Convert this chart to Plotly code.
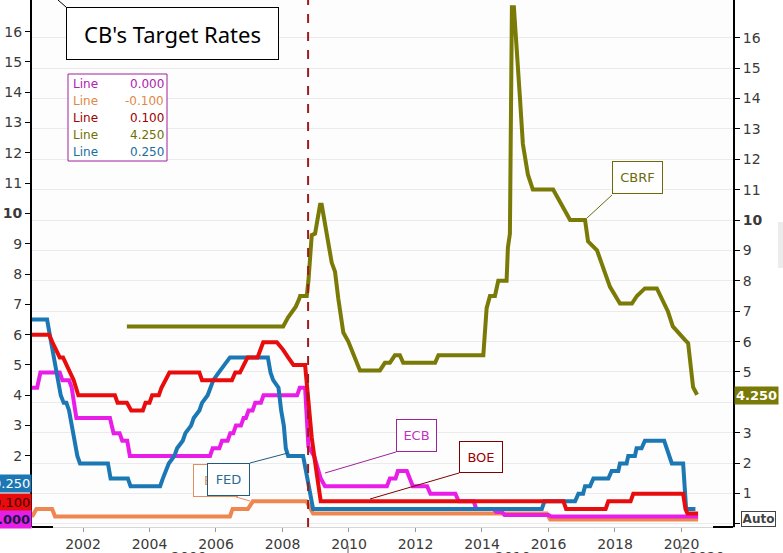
import plotly.graph_objects as go

# ---------------- data (decimal year, rate %) ----------------
FED = [(2000.30, 6.5), (2000.92, 6.5), (2001.00, 6.0), (2001.08, 5.5), (2001.17, 5.0), (2001.25, 4.5),
       (2001.33, 4.0), (2001.42, 3.75), (2001.50, 3.75), (2001.58, 3.5), (2001.67, 3.0), (2001.75, 2.5),
       (2001.83, 2.0), (2001.91, 1.75), (2002.75, 1.75), (2002.83, 1.25), (2003.35, 1.25), (2003.43, 1.0),
       (2004.32, 1.0), (2004.40, 1.25), (2004.50, 1.5), (2004.58, 1.75), (2004.75, 2.0), (2004.83, 2.25),
       (2005.00, 2.5), (2005.08, 2.75), (2005.25, 3.0), (2005.33, 3.25), (2005.50, 3.5), (2005.58, 3.75),
       (2005.75, 4.0), (2005.83, 4.25), (2005.92, 4.5), (2006.08, 4.75), (2006.25, 5.0), (2006.42, 5.25),
       (2007.56, 5.25), (2007.64, 4.75), (2007.72, 4.5), (2007.88, 4.25), (2007.96, 3.5), (2008.04, 3.0),
       (2008.10, 2.25), (2008.17, 2.0), (2008.62, 2.0), (2008.70, 1.5), (2008.78, 1.0), (2008.92, 0.25),
       (2015.80, 0.25), (2015.88, 0.5), (2016.80, 0.5), (2016.90, 0.75), (2017.04, 0.75), (2017.10, 1.0),
       (2017.25, 1.0), (2017.35, 1.25), (2017.80, 1.25), (2017.90, 1.5), (2018.10, 1.5), (2018.15, 1.75),
       (2018.35, 1.75), (2018.40, 2.0), (2018.60, 2.0), (2018.65, 2.25), (2018.80, 2.25), (2018.90, 2.5),
       (2019.48, 2.5), (2019.55, 2.25), (2019.63, 2.0), (2019.71, 1.75), (2020.05, 1.75), (2020.10, 1.0),
       (2020.14, 0.25), (2020.42, 0.25)]

ECB = [(2000.30, 4.25), (2000.62, 4.25), (2000.72, 4.75), (2001.30, 4.75), (2001.38, 4.5), (2001.58, 4.5),
       (2001.66, 4.25), (2001.72, 3.75), (2001.80, 3.25), (2002.81, 3.25), (2002.92, 2.75), (2003.10, 2.75),
       (2003.18, 2.5), (2003.33, 2.5), (2003.41, 2.0), (2005.82, 2.0), (2005.90, 2.25), (2006.10, 2.25),
       (2006.18, 2.5), (2006.35, 2.5), (2006.43, 2.75), (2006.52, 2.75), (2006.60, 3.0), (2006.75, 3.0),
       (2006.83, 3.25), (2006.90, 3.25), (2006.98, 3.5), (2007.10, 3.5), (2007.18, 3.75), (2007.35, 3.75),
       (2007.43, 4.0), (2008.44, 4.0), (2008.52, 4.25), (2008.68, 4.25), (2008.78, 2.3), (2008.95, 2.0),
       (2009.05, 1.6), (2009.15, 1.25), (2009.28, 1.0), (2011.14, 1.0), (2011.23, 1.25), (2011.40, 1.25),
       (2011.47, 1.5), (2011.74, 1.5), (2011.83, 1.25), (2011.92, 1.0), (2012.35, 1.0), (2012.45, 0.75),
       (2013.20, 0.75), (2013.30, 0.5), (2013.75, 0.5), (2013.83, 0.25), (2014.35, 0.25), (2014.43, 0.15),
       (2014.60, 0.15), (2014.68, 0.05), (2016.00, 0.05), (2016.08, 0.0), (2020.50, 0.0)]

BOE = [(2000.30, 6.0), (2000.98, 6.0), (2001.08, 5.75), (2001.20, 5.5), (2001.30, 5.25), (2001.40, 5.25),
       (2001.50, 5.0), (2001.62, 4.75), (2001.72, 4.5), (2001.86, 4.0), (2002.96, 4.0), (2003.04, 3.75),
       (2003.32, 3.75), (2003.45, 3.5), (2003.80, 3.5), (2003.88, 3.75), (2004.00, 3.75), (2004.08, 4.0),
       (2004.28, 4.0), (2004.36, 4.25), (2004.47, 4.5), (2004.60, 4.75), (2005.50, 4.75), (2005.58, 4.5),
       (2006.48, 4.5), (2006.58, 4.75), (2006.72, 4.75), (2006.82, 5.0), (2006.95, 5.25), (2007.25, 5.25),
       (2007.32, 5.5), (2007.42, 5.75), (2007.83, 5.75), (2008.02, 5.5), (2008.17, 5.25), (2008.33, 5.0),
       (2008.68, 5.0), (2008.78, 3.8), (2008.88, 2.6), (2008.98, 1.8), (2009.06, 1.2), (2009.15, 0.5),
       (2016.45, 0.5), (2016.53, 0.25), (2017.72, 0.25), (2017.80, 0.5), (2018.47, 0.5), (2018.55, 0.75),
       (2020.05, 0.75), (2020.12, 0.25), (2020.18, 0.1), (2020.50, 0.1)]

BOJ = [(2000.45, 0.0), (2000.50, 0.05), (2000.60, 0.25), (2001.07, 0.25), (2001.16, 0.0), (2006.42, 0.0),
       (2006.50, 0.25), (2006.96, 0.25), (2007.11, 0.5), (2008.72, 0.5), (2008.82, 0.3), (2008.92, 0.1),
       (2015.95, 0.1), (2016.05, -0.1), (2020.50, -0.1)]

CBRF = [(2003.32, 6.5), (2008.02, 6.5), (2008.17, 6.8), (2008.30, 7.0), (2008.40, 7.15), (2008.50, 7.4),
        (2008.53, 7.5), (2008.73, 7.5), (2008.78, 8.0), (2008.88, 9.5), (2008.98, 9.55), (2009.13, 10.5),
        (2009.18, 10.5), (2009.48, 8.6), (2009.58, 8.3), (2009.68, 7.4), (2009.83, 6.3), (2009.98, 6.0),
        (2010.33, 5.05), (2010.93, 5.05), (2011.08, 5.3), (2011.23, 5.3), (2011.38, 5.55), (2011.53, 5.55),
        (2011.63, 5.3), (2012.59, 5.3), (2012.69, 5.55), (2014.04, 5.55), (2014.14, 7.1), (2014.24, 7.5),
        (2014.39, 7.5), (2014.49, 8.0), (2014.74, 8.0), (2014.78, 9.1), (2014.84, 9.55), (2014.86, 12.0),
        (2014.87, 14.5), (2014.90, 17.0), (2014.96, 17.0), (2015.05, 15.7), (2015.14, 14.05), (2015.23, 12.5),
        (2015.38, 11.5), (2015.53, 11.0), (2016.14, 11.0), (2016.65, 10.0), (2017.10, 10.0), (2017.19, 9.3),
        (2017.46, 9.0), (2017.85, 7.8), (2018.15, 7.25), (2018.51, 7.25), (2018.66, 7.5), (2018.90, 7.75),
        (2019.26, 7.75), (2019.59, 7.0), (2019.74, 6.5), (2020.11, 6.05), (2020.20, 5.95), (2020.35, 4.5),
        (2020.47, 4.25)]

CRISIS_MARK = 2008.77
X_TICKS = [2002, 2004, 2006, 2008, 2010, 2012, 2014, 2016, 2018, 2020]
DECADE_LABELS = ["2000", "2010", "2020"]
Y_TICKS = list(range(0, 17))
LEGEND_ROWS = [("Line", "0.000"), ("Line", "-0.100"), ("Line", "0.100"), ("Line", "4.250"), ("Line", "0.250")]
LAST_LEFT = ["0.250", "0.100", "0.000"]
LAST_RIGHT = "4.250"

# ---------------- styling ----------------
C_FED, C_ECB, C_BOE, C_BOJ, C_CBRF = "#1b78b4", "#e81ee8", "#e80c0c", "#ef8650", "#7a7a06"
FONT = "DejaVu Sans"
W, H = 783, 553
PL, PR, PT, PB = 32, 733, 0, 527


def px(x):
    return (x - PL) / (PR - PL)


def py(y):
    return (PB - y) / (PB - PT)


fig = go.Figure()
for data, color in [(BOJ, C_BOJ), (ECB, C_ECB), (FED, C_FED), (BOE, C_BOE)]:
    fig.add_trace(go.Scatter(x=[d[0] for d in data], y=[d[1] for d in data], mode="lines",
                             line=dict(color=color, width=4), yaxis="y", hoverinfo="skip"))
fig.add_trace(go.Scatter(x=[d[0] for d in CBRF], y=[d[1] for d in CBRF], mode="lines",
                         line=dict(color=C_CBRF, width=4), yaxis="y2", hoverinfo="skip"))

# labels hidden under value tags in the reference are left blank
left_text = ["" if v in (0, 1) else ("<b>10</b>" if v == 10 else str(v)) for v in Y_TICKS]
right_text = ["" if v in (0, 4) else ("<b>10</b>" if v == 10 else str(v)) for v in Y_TICKS]

fig.update_layout(
    width=W, height=H, showlegend=False,
    margin=dict(l=PL, r=W - PR, t=PT, b=H - PB),
    paper_bgcolor="white", plot_bgcolor="#fdfdfd",
    font=dict(family=FONT, size=14, color="#3a3a3a"),
    xaxis=dict(range=[2000.466, 2021.55], tickvals=X_TICKS, ticktext=[str(v) for v in X_TICKS],
               showgrid=False, zeroline=False, showline=True, linecolor="#d6d6d6", linewidth=1,
               ticks="outside", ticklen=4, tickcolor="#999999", tickfont=dict(size=14, color="#3a3a3a")),
    yaxis=dict(range=[-0.347, 17.046], tickvals=Y_TICKS, ticktext=left_text, showgrid=False,
               zeroline=False, showline=True, linecolor="black", linewidth=2, ticks="outside",
               ticklen=5, tickcolor="black", tickfont=dict(size=14, color="#3a3a3a")),
    yaxis2=dict(range=[-0.099, 17.237], overlaying="y", side="right", tickvals=Y_TICKS, ticktext=right_text,
                showgrid=True, gridcolor="#ebebeb", zeroline=False, showline=True, linecolor="black",
                linewidth=2, ticks="outside", ticklen=5, tickcolor="black",
                tickfont=dict(size=14, color="#3a3a3a")),
)

shapes = []
shapes.append(dict(type="line", xref="x", yref="paper", x0=CRISIS_MARK, x1=CRISIS_MARK, y0=0, y1=1,
                   line=dict(color="#a01c1c", width=2, dash="dash"), layer="above"))
for a, b in [(32, 53), (713, 733)]:
    shapes.append(dict(type="line", xref="paper", yref="paper", x0=px(a), x1=px(b), y0=py(527), y1=py(527),
                       line=dict(color="black", width=2), layer="above"))
for xx in [348, 681]:
    shapes.append(dict(type="line", xref="paper", yref="paper", x0=px(xx), x1=px(xx), y0=py(546), y1=py(556),
                       line=dict(color="#555555", width=1)))
shapes.append(dict(type="line", xref="paper", yref="paper", x0=px(58), x1=px(66), y0=py(0), y1=py(7),
                   line=dict(color="black", width=1), layer="above"))
shapes.append(dict(type="rect", xref="paper", yref="paper", x0=px(68), x1=px(167), y0=py(161), y1=py(74),
                   line=dict(color="#a020a0", width=1), fillcolor="white", layer="above"))
for (x0, y0, x1, y1, c) in [(587, 218, 612, 195, "#6b6b0a"), (325, 473, 396, 452, "#a020a0"),
                            (370, 499, 459, 473, "#800000"), (236, 497, 250, 501, "#e09060"),
                            (250, 463, 288, 453, "#1d5c7c")]:
    shapes.append(dict(type="line", xref="paper", yref="paper", x0=px(x0), x1=px(x1), y0=py(y0), y1=py(y1),
                       line=dict(color=c, width=1), layer="above"))
shapes.append(dict(type="rect", xref="paper", yref="paper", x0=px(778), x1=px(784), y0=py(268), y1=py(222),
                   line=dict(width=0), fillcolor="#ececec"))
fig.update_layout(shapes=shapes)

ann = []


def box(text, x0, y0, x1, y1, color, border, size=13, family=FONT, bg="white", bold=False):
    t = f"<b>{text}</b>" if bold else text
    ann.append(dict(text=t, xref="paper", yref="paper", x=px(x0), y=py(y0), xanchor="left", yanchor="top",
                    showarrow=False, width=x1 - x0 - 2, height=y1 - y0 - 2, align="center", valign="middle",
                    bgcolor=bg, bordercolor=border, borderwidth=1, borderpad=0,
                    font=dict(family=family, size=size, color=color)))


box("CB's Target Rates", 66, 7, 279, 60, "black", "black", size=22, family="Noto Sans")
box("CBRF", 612, 161, 663, 194, "#6b6b0a", "#6b6b0a")
box("ECB", 396, 419, 437, 452, "#c42fc4", "#a020a0")
box("BOE", 459, 441, 503, 473, "#9a0000", "#800000")
box("BOJ", 193, 464, 238, 497, "#e8905a", "#e09060")
box("FED", 207, 463, 250, 496, "#2a6c94", "#1d5c7c")

legend_colors = ["#b020b0", "#e08848", "#a00000", "#707000", "#1a6e9e"]
for i, ((lab, val), col) in enumerate(zip(LEGEND_ROWS, legend_colors)):
    yc = 84 + i * 17
    ann.append(dict(text=lab, xref="paper", yref="paper", x=px(71), y=py(yc), xanchor="left", yanchor="middle",
                    showarrow=False, font=dict(family=FONT, size=12, color=col)))
    ann.append(dict(text=val, xref="paper", yref="paper", x=px(166), y=py(yc), xanchor="right",
                    yanchor="middle", showarrow=False, font=dict(family=FONT, size=12, color=col)))

for text, (y0, y1), bg, fc, bold in [(LAST_LEFT[0], (475, 491), C_FED, "white", False),
                                      (LAST_LEFT[1], (494, 510), C_BOE, "#4a0000", False),
                                      (LAST_LEFT[2], (511, 527), C_ECB, "#1a1a4a", True)]:
    ann.append(dict(text=f"<b>{text}</b>" if bold else text, xref="paper", yref="paper", x=px(32),
                    y=py((y0 + y1) / 2), xanchor="right", yanchor="middle", showarrow=False, bgcolor=bg,
                    borderpad=1, font=dict(family=FONT, size=13, color=fc)))
ann.append(dict(text=f"<b>{LAST_RIGHT}</b>", xref="paper", yref="paper", x=px(734), y=py(395),
                xanchor="left", yanchor="middle", showarrow=False, bgcolor=C_CBRF, borderpad=1,
                font=dict(family=FONT, size=13, color="white")))
box("Auto", 741, 511, 776, 527, "#444444", "#444444", size=12, bold=True)

for text, xc in zip(DECADE_LABELS, [189, 513, 707]):
    ann.append(dict(text=text, xref="paper", yref="paper", x=px(xc), y=py(547), xanchor="center",
                    yanchor="top", showarrow=False, font=dict(family=FONT, size=14, color="#3a3a3a")))

fig.update_layout(annotations=ann)
fig.write_html("out.html", config={"displayModeBar": False},
               post_script="document.body.style.margin='0';document.body.style.overflow='hidden';")
